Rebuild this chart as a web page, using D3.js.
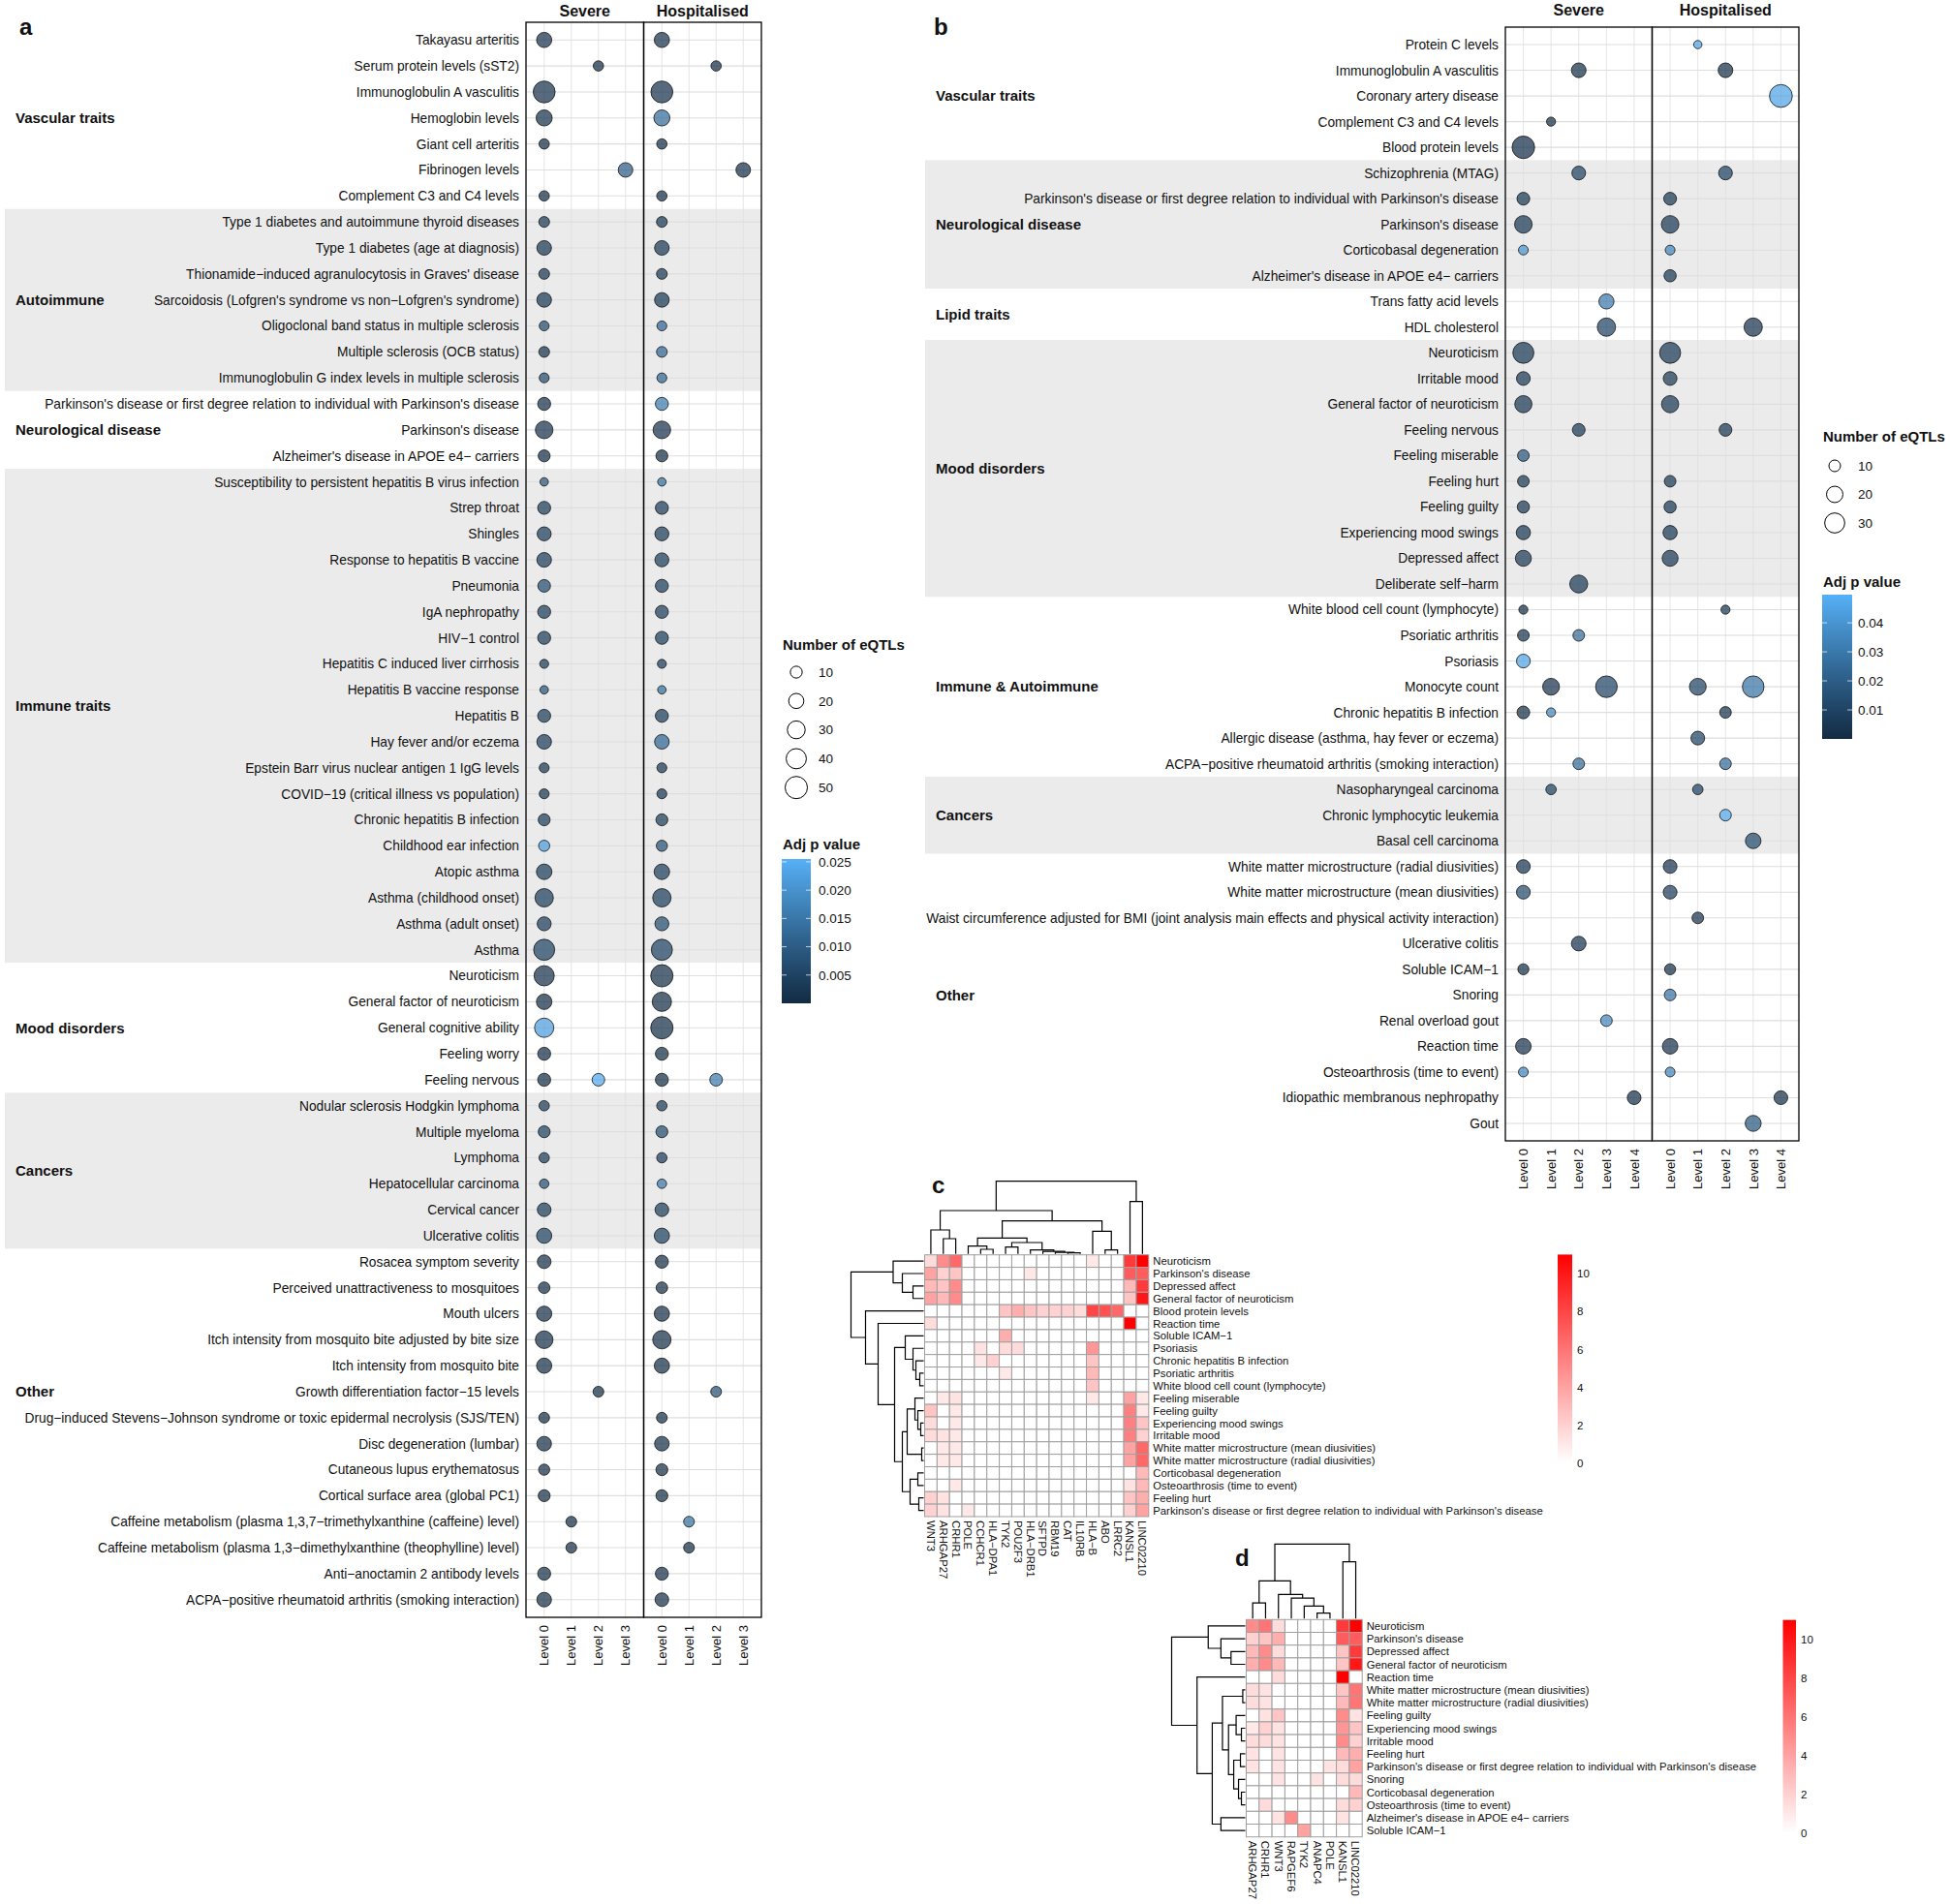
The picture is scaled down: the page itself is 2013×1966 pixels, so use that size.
<!DOCTYPE html>
<html><head><meta charset="utf-8">
<script src="https://cdn.jsdelivr.net/npm/d3@7"></script>
<style>body{margin:0;background:#fff} text{font-family:"Liberation Sans",Arial,sans-serif;fill:#111}</style>
</head><body>
<script>
// ---------------- DATA: panel a ----------------
const facetNames = ["Severe","Hospitalised"];
const levelsA = ["Level 0","Level 1","Level 2","Level 3"];
const levelsB = ["Level 0","Level 1","Level 2","Level 3","Level 4"];

const traitsA = [
"Takayasu arteritis","Serum protein levels (sST2)","Immunoglobulin A vasculitis","Hemoglobin levels","Giant cell arteritis","Fibrinogen levels","Complement C3 and C4 levels",
"Type 1 diabetes and autoimmune thyroid diseases","Type 1 diabetes (age at diagnosis)","Thionamide−induced agranulocytosis in Graves' disease","Sarcoidosis (Lofgren's syndrome vs non−Lofgren's syndrome)","Oligoclonal band status in multiple sclerosis","Multiple sclerosis (OCB status)","Immunoglobulin G index levels in multiple sclerosis",
"Parkinson's disease or first degree relation to individual with Parkinson's disease","Parkinson's disease","Alzheimer's disease in APOE e4− carriers",
"Susceptibility to persistent hepatitis B virus infection","Strep throat","Shingles","Response to hepatitis B vaccine","Pneumonia","IgA nephropathy","HIV−1 control","Hepatitis C induced liver cirrhosis","Hepatitis B vaccine response","Hepatitis B","Hay fever and/or eczema","Epstein Barr virus nuclear antigen 1 IgG levels","COVID−19 (critical illness vs population)","Chronic hepatitis B infection","Childhood ear infection","Atopic asthma","Asthma (childhood onset)","Asthma (adult onset)","Asthma",
"Neuroticism","General factor of neuroticism","General cognitive ability","Feeling worry","Feeling nervous",
"Nodular sclerosis Hodgkin lymphoma","Multiple myeloma","Lymphoma","Hepatocellular carcinoma","Cervical cancer","Ulcerative colitis",
"Rosacea symptom severity","Perceived unattractiveness to mosquitoes","Mouth ulcers","Itch intensity from mosquito bite adjusted by bite size","Itch intensity from mosquito bite","Growth differentiation factor−15 levels","Drug−induced Stevens−Johnson syndrome or toxic epidermal necrolysis (SJS/TEN)","Disc degeneration (lumbar)","Cutaneous lupus erythematosus","Cortical surface area (global PC1)","Caffeine metabolism (plasma 1,3,7−trimethylxanthine (caffeine) level)","Caffeine metabolism (plasma 1,3−dimethylxanthine (theophylline) level)","Anti−anoctamin 2 antibody levels","ACPA−positive rheumatoid arthritis (smoking interaction)"];
const groupsA = ["Vascular traits","Autoimmune","Neurological disease","Immune traits","Mood disorders","Cancers","Other"];
const groupSizesA = [7,7,3,19,5,6,14];
const groupShadedA = [false,true,false,true,false,true,false];
const groupLabelRowA = [3,10,15,25.6,38,43.5,52];

// [trait row, level index, number of eQTLs, adj p value]
const severeA = [
[0,0,20,0.0015],[1,2,6,0.0008],[2,0,48,0.0015],[3,0,23,0.0015],[4,0,6,0.0008],[5,3,18,0.010],[6,0,6,0.0008],
[7,0,7,0.003],[8,0,18,0.003],[9,0,7,0.003],[10,0,18,0.003],[11,0,5,0.007],[12,0,7,0.002],[13,0,5,0.007],
[14,0,13,0.0015],[15,0,29,0.0015],[16,0,10,0.0008],
[17,0,2,0.009],[18,0,13,0.004],[19,0,16,0.004],[20,0,18,0.004],[21,0,12,0.007],[22,0,13,0.004],[23,0,13,0.004],[24,0,3,0.004],[25,0,2,0.009],[26,0,13,0.004],[27,0,18,0.004],[28,0,5,0.003],[29,0,5,0.003],[30,0,10,0.004],[31,0,8,0.022],[32,0,21,0.004],[33,0,32,0.004],[34,0,16,0.004],[35,0,44,0.005],
[36,0,40,0.0015],[37,0,21,0.0008],[38,0,36,0.022],[39,0,13,0.0008],[40,0,13,0.0008],[40,2,12,0.024],
[41,0,6,0.004],[42,0,10,0.005],[43,0,6,0.004],[44,0,4,0.008],[45,0,15,0.004],[46,0,20,0.005],
[47,0,15,0.001],[48,0,9,0.001],[49,0,20,0.001],[50,0,29,0.001],[51,0,20,0.001],[52,2,7,0.001],[53,0,7,0.001],[54,0,18,0.001],[55,0,8,0.001],[56,0,10,0.001],[57,1,7,0.001],[58,1,7,0.001],[59,0,13,0.001],[60,0,18,0.001]];
const hospA = [
[0,0,20,0.0015],[1,2,6,0.0008],[2,0,48,0.0015],[3,0,23,0.013],[4,0,6,0.0008],[5,3,18,0.0008],[6,0,6,0.0008],
[7,0,7,0.003],[8,0,18,0.003],[9,0,7,0.003],[10,0,18,0.003],[11,0,5,0.012],[12,0,7,0.012],[13,0,5,0.012],
[14,0,13,0.016],[15,0,29,0.0015],[16,0,10,0.0008],
[17,0,2,0.014],[18,0,13,0.004],[19,0,16,0.004],[20,0,16,0.004],[21,0,13,0.004],[22,0,13,0.004],[23,0,13,0.004],[24,0,3,0.004],[25,0,2,0.014],[26,0,13,0.004],[27,0,18,0.012],[28,0,5,0.003],[29,0,5,0.003],[30,0,10,0.004],[31,0,8,0.008],[32,0,21,0.004],[33,0,32,0.004],[34,0,16,0.007],[35,0,44,0.005],
[36,0,50,0.0008],[37,0,36,0.0008],[38,0,50,0.0008],[39,0,13,0.0008],[40,0,13,0.0008],[40,2,12,0.016],
[41,0,6,0.004],[42,0,10,0.007],[43,0,6,0.004],[44,0,4,0.016],[45,0,15,0.004],[46,0,20,0.005],
[47,0,13,0.001],[48,0,9,0.001],[49,0,20,0.001],[50,0,32,0.001],[51,0,20,0.001],[52,2,7,0.008],[53,0,7,0.001],[54,0,18,0.001],[55,0,10,0.001],[56,0,10,0.001],[57,1,7,0.014],[58,1,7,0.001],[59,0,13,0.001],[60,0,15,0.001]];
const sizeLegendA = [10,20,30,40,50];
const pTicksA = [0.005,0.010,0.015,0.020,0.025];
const pMaxA = 0.0255;

// ---------------- DATA: panel b ----------------
const traitsB = [
"Protein C levels","Immunoglobulin A vasculitis","Coronary artery disease","Complement C3 and C4 levels","Blood protein levels",
"Schizophrenia (MTAG)","Parkinson's disease or first degree relation to individual with Parkinson's disease","Parkinson's disease","Corticobasal degeneration","Alzheimer's disease in APOE e4− carriers",
"Trans fatty acid levels","HDL cholesterol",
"Neuroticism","Irritable mood","General factor of neuroticism","Feeling nervous","Feeling miserable","Feeling hurt","Feeling guilty","Experiencing mood swings","Depressed affect","Deliberate self−harm",
"White blood cell count (lymphocyte)","Psoriatic arthritis","Psoriasis","Monocyte count","Chronic hepatitis B infection","Allergic disease (asthma, hay fever or eczema)","ACPA−positive rheumatoid arthritis (smoking interaction)",
"Nasopharyngeal carcinoma","Chronic lymphocytic leukemia","Basal cell carcinoma",
"White matter microstructure (radial diusivities)","White matter microstructure (mean diusivities)","Waist circumference adjusted for BMI (joint analysis main effects and physical activity interaction)","Ulcerative colitis","Soluble ICAM−1","Snoring","Renal overload gout","Reaction time","Osteoarthrosis (time to event)","Idiopathic membranous nephropathy","Gout"];
const groupsB = ["Vascular traits","Neurological disease","Lipid traits","Mood disorders","Immune & Autoimmune","Cancers","Other"];
const groupSizesB = [5,5,2,10,7,3,11];
const groupShadedB = [false,true,false,true,false,true,false];
const severeB = [
[1,2,16,0.002],[3,1,6,0.002],[4,0,38,0.001],[5,2,14,0.010],[6,0,12,0.006],[7,0,23,0.006],[8,0,7,0.040],[10,3,17,0.030],[11,3,25,0.010],
[12,0,33,0.006],[13,0,14,0.006],[14,0,22,0.006],[15,2,12,0.006],[16,0,10,0.018],[17,0,10,0.006],[18,0,11,0.006],[19,0,15,0.006],[20,0,19,0.006],[21,2,24,0.006],
[22,0,6,0.002],[23,0,10,0.004],[23,2,10,0.025],[24,0,14,0.045],[25,1,21,0.003],[25,3,35,0.010],[26,0,12,0.002],[26,1,6,0.035],[28,2,10,0.025],[29,1,8,0.010],
[32,0,14,0.004],[33,0,14,0.013],[35,2,16,0.004],[36,0,9,0.002],[38,3,10,0.035],[39,0,18,0.003],[40,0,7,0.035],[41,4,14,0.002]];
const hospB = [
[0,1,5,0.045],[1,2,16,0.002],[2,4,39,0.045],[5,2,14,0.010],[6,0,12,0.006],[7,0,23,0.006],[8,0,7,0.035],[9,0,11,0.006],[11,3,25,0.003],
[12,0,33,0.006],[13,0,14,0.006],[14,0,22,0.006],[15,2,12,0.006],[17,0,10,0.006],[18,0,11,0.006],[19,0,15,0.006],[20,0,19,0.006],
[22,2,6,0.005],[25,1,21,0.010],[25,3,35,0.028],[26,2,10,0.003],[27,1,14,0.010],[28,2,10,0.025],[29,1,8,0.010],[30,2,10,0.048],[31,3,18,0.013],
[32,0,14,0.004],[33,0,14,0.008],[34,1,10,0.003],[36,0,9,0.002],[37,0,10,0.028],[39,0,18,0.003],[40,0,7,0.035],[41,4,14,0.002],[42,3,19,0.018]];
const sizeLegendB = [10,20,30];
const pTicksB = [0.01,0.02,0.03,0.04];
const pMaxB = 0.0497;

// ---------------- DATA: heatmap c ----------------
const colsC = ["WNT3","ARHGAP27","CRHR1","POLE","CCHCR1","HLA−DPA1","TYK2","POU2F3","HLA−DRB1","SFTPD","RBM19","CAT","IL10RB","HLA−B","ABO","LRRC2","KANSL1","LINC02210"];
const rowsC = ["Neuroticism","Parkinson's disease","Depressed affect","General factor of neuroticism","Blood protein levels","Reaction time","Soluble ICAM−1","Psoriasis","Chronic hepatitis B infection","Psoriatic arthritis","White blood cell count (lymphocyte)","Feeling miserable","Feeling guilty","Experiencing mood swings","Irritable mood","White matter microstructure (mean diusivities)","White matter microstructure (radial diusivities)","Corticobasal degeneration","Osteoarthrosis (time to event)","Feeling hurt","Parkinson's disease or first degree relation to individual with Parkinson's disease"];
const valuesC = [
[1.5,5,6.5,0,0,0,0,0,0,0,0,0,0,1,0,0,8.5,11],
[4,2,2.5,0,0,0,0,0,1,0,0,0,0,0,0,0,7,7],
[3,2.5,5,0,0,0,0,0,0,0,0,0,0,0,0,0,3,8.5],
[4,3,5,0,0,0,0,0,0,0,0,0,0,0,0,0,2.5,10],
[0,0,0,0,0,0,2.5,3.5,2.5,2,2,2,1.5,8,7.5,6.5,0,0],
[1.5,0,0,0,0,0,0,0,0,0,0,0,0,0,0,0,11,0],
[0,0,0,0,0,0,3.5,0,0,0,0,0,0,0,0,0,0,0],
[0,0,0,0,1.2,0,1.5,1.5,0,0,0,0,0,4.5,0,0,0,0],
[0,0,0,0,1,2,0,0,0,0,0,0,0,2.5,0,0,0,0],
[0,0,0,0,0,0,1,0,0,0,0,0,0,3,0,0,0,0],
[0,0,0,0,0,0,0,0,0,0,0,0,0,2.5,0,0,0,0],
[0,1,1.2,0,0,0,0,0,0,0,0,0,0,1,0,0,4,1],
[2.5,0,1,0,0,0,0,0,0,0,0,0,0,0,0,0,5.5,1],
[1.5,0,1,0,0,0,0,0,0,0,0,0,0,0,0,0,5.5,2.5],
[1.5,1.2,1,0,0,0,0,0,0,0,0,0,0,0,0,0,5.5,2],
[0,1,1,0,0,0,0,0,0,0,0,0,0,0,0,0,4,6.5],
[0,1,1,0,0,0,0,0,0,0,0,0,0,0,0,0,4,6.5],
[0,0,0,0,0,0,0,0,0,0,0,0,0,0,0,0,0,3],
[0,0,1,0,0,0,0,0,0,0,0,0,0,0,0,0,1.2,3],
[2,1.2,0,0,0,0,0,0,0,0,0,0,0,0,0,0,2.5,3.5],
[2,1.2,0,1,0,0,0,0,0,0,0,0,0,0,0,0,2,4]];
// dendrograms: [left, right, merge height]
const colTreeC = [
  [["WNT3",["ARHGAP27","CRHR1",15.7],24.7],
   [[["POLE",["CCHCR1","HLA−DPA1",4.7],8],
     [["TYK2","POU2F3",7],["HLA−DRB1",["SFTPD",["RBM19",["CAT","IL10RB",1],1.5],2.5],4],11.7],16.3],
    ["HLA−B",["ABO","LRRC2",4],23.3],34],44.7],
  ["KANSL1","LINC02210",54],75];
const rowTreeC = [
  ["Neuroticism",["Parkinson's disease",["Depressed affect","General factor of neuroticism",11],22],31.5],
  ["Blood protein levels",
    ["Reaction time",
      [["Soluble ICAM−1",["Psoriasis",["Chronic hepatitis B infection",["Psoriatic arthritis","White blood cell count (lymphocyte)",4],8],11],19],
       [[["Feeling miserable",["Feeling guilty",["Experiencing mood swings","Irritable mood",3],6],9],["White matter microstructure (mean diusivities)","White matter microstructure (radial diusivities)",2],17],
        [["Corticobasal degeneration","Osteoarthrosis (time to event)",6],["Feeling hurt","Parkinson's disease or first degree relation to individual with Parkinson's disease",5],14],22],30],47],60],75];

// ---------------- DATA: heatmap d ----------------
const colsD = ["ARHGAP27","CRHR1","WNT3","RAPGEF6","TYK2","ANAPC4","POLE","KANSL1","LINC02210"];
const rowsD = ["Neuroticism","Parkinson's disease","Depressed affect","General factor of neuroticism","Reaction time","White matter microstructure (mean diusivities)","White matter microstructure (radial diusivities)","Feeling guilty","Experiencing mood swings","Irritable mood","Feeling hurt","Parkinson's disease or first degree relation to individual with Parkinson's disease","Snoring","Corticobasal degeneration","Osteoarthrosis (time to event)","Alzheimer's disease in APOE e4− carriers","Soluble ICAM−1"];
const valuesD = [
[5,6,1.5,0,0,0,0,8.5,11],
[2,2.5,3.5,0,0,0,0,7,7],
[3,5,1.5,0,0,0,0,2.5,8.5],
[3.5,5,3,0,0,0,0,2.5,10],
[0,0,1.5,0,0,0,0,11,0],
[1.5,1.2,0,0,0,0,0,2.5,6],
[1.5,1.2,0,0,0,0,0,3,6],
[0,1.2,2.5,0,0,0,0,5,1.2],
[1,2,1.2,0,0,0,0,4.5,2.5],
[1.5,1.5,1.2,0,0,0,0,5,2],
[1.2,0,1.2,0,0,0,0,3,3.5],
[1.2,0,1.2,0,0,0,1.2,1.5,4],
[0,0,1.2,0,0,1.2,0,1.5,1.5],
[0,0,0,0,0,0,0,0,3],
[0,1.5,0,0,0,0,0,1.5,2],
[0,0,1.2,5,0,0,0,1.2,0],
[0,0,0,0,4,0,0,0,0]];
const colTreeD = [
  [["ARHGAP27","CRHR1",16.3],["WNT3",["RAPGEF6",["TYK2",["ANAPC4","POLE",5.7],13],21.3],25],39],
  ["KANSL1","LINC02210",59],77.3];
const rowTreeD = [
  ["Neuroticism",["Parkinson's disease",["Depressed affect","General factor of neuroticism",14.8],25.3],38.5],
  ["Reaction time",
    [[["White matter microstructure (mean diusivities)","White matter microstructure (radial diusivities)",2.6],
      [["Feeling guilty",["Experiencing mood swings","Irritable mood",4],9.5],
       [["Feeling hurt","Parkinson's disease or first degree relation to individual with Parkinson's disease",5],["Snoring",["Corticobasal degeneration","Osteoarthrosis (time to event)",4],7],12],17.4],23.7],
     ["Alzheimer's disease in APOE e4− carriers","Soluble ICAM−1",25.3],34.3],50.1],76.5];
const heatTicks = [0,2,4,6,8,10];
const heatMax = 11;

// ---------------- DRAWING ----------------
const W = 2013, H = 1966;
const svg = d3.select("body").append("svg").attr("width", W).attr("height", H).attr("viewBox", `0 0 ${W} ${H}`);
svg.append("rect").attr("width", W).attr("height", H).attr("fill", "#fff");
const defs = svg.append("defs");
let gradId = 0;

function dotPanel(o) {
  const g = svg.append("g");
  const y = d3.scalePoint().domain(d3.range(o.traits.length)).range([o.top, o.bottom]).padding(0.68);
  const step = y.step();
  const xs = o.facetX.map(([a, b]) => d3.scalePoint().domain(d3.range(o.levels.length)).range([a, b]).padding(o.pad));
  const right = o.facetX[1][1];
  const size = d3.scaleLinear().domain(o.sizeDom).range(o.sizeD2);
  const color = d3.scaleLinear().domain([0, o.pMax]).range(["#132B43", "#56B1F7"]).interpolate(d3.interpolateLab);

  let start = 0;
  o.groupSizes.forEach((n, i) => {
    const y0 = y(start) - step / 2, y1 = y(start + n - 1) + step / 2;
    if (o.shaded[i]) g.append("rect").attr("x", o.bandLeft).attr("y", y0).attr("width", right - o.bandLeft).attr("height", y1 - y0).attr("fill", "#EBEBEB");
    const ly = o.labelRows ? y(0) + o.labelRows[i] * step : (y(start) + y(start + n - 1)) / 2;
    g.append("text").attr("x", o.groupX).attr("y", ly).attr("dy", "0.36em").attr("font-size", 15).attr("font-weight", "bold").text(o.groups[i]);
    start += n;
  });
  xs.forEach((x, fi) => {
    const [a, b] = o.facetX[fi];
    g.selectAll(null).data(d3.range(o.traits.length)).join("line")
      .attr("x1", a).attr("x2", b).attr("y1", d => y(d)).attr("y2", d => y(d))
      .attr("stroke", "#DEDEDE").attr("stroke-width", 1.1);
    g.selectAll(null).data(d3.range(o.levels.length)).join("line")
      .attr("x1", d => x(d)).attr("x2", d => x(d)).attr("y1", o.top).attr("y2", o.bottom)
      .attr("stroke", "#DEDEDE").attr("stroke-width", 0.8);
  });
  g.selectAll(null).data(o.traits).join("text")
    .attr("x", o.labelRight).attr("y", (d, i) => y(i)).attr("dy", "0.36em")
    .attr("text-anchor", "end").attr("font-size", 13.75).text(d => d);
  [o.sev, o.hosp].forEach((data, fi) => {
    g.selectAll(null).data(data).join("circle")
      .attr("cx", d => xs[fi](d[1])).attr("cy", d => y(d[0]))
      .attr("r", d => Math.sqrt(size(d[2])) / 2)
      .attr("fill", d => color(d[3])).attr("fill-opacity", 0.72)
      .attr("stroke", "#111").attr("stroke-width", 0.8);
  });
  o.facetX.forEach(([a, b], fi) => {
    g.append("rect").attr("x", a).attr("y", o.top).attr("width", b - a).attr("height", o.bottom - o.top)
      .attr("fill", "none").attr("stroke", "#000").attr("stroke-width", 1.3);
    g.append("text").attr("x", (a + b) / 2).attr("y", o.stripY).attr("text-anchor", "middle")
      .attr("font-size", 16).attr("font-weight", "bold").text(facetNames[fi]);
    g.selectAll(null).data(o.levels).join("text")
      .attr("transform", (d, i) => `translate(${xs[fi](i)},${o.bottom + 8}) rotate(-90)`)
      .attr("text-anchor", "end").attr("dy", "0.36em").attr("font-size", 13).attr("fill", "#222").text(d => d);
  });
  const L = o.legend;
  g.append("text").attr("x", L.x).attr("y", L.titleY).attr("font-size", 15).attr("font-weight", "bold").text("Number of eQTLs");
  o.sizeLegend.forEach((v, i) => {
    const cy = L.firstY + i * L.gap;
    g.append("circle").attr("cx", L.cx).attr("cy", cy).attr("r", Math.sqrt(size(v)) / 2).attr("fill", "none").attr("stroke", "#000").attr("stroke-width", 1);
    g.append("text").attr("x", L.labelX).attr("y", cy).attr("dy", "0.36em").attr("font-size", 13.5).text(v);
  });
  g.append("text").attr("x", L.x).attr("y", L.pTitleY).attr("font-size", 15).attr("font-weight", "bold").text("Adj p value");
  const by = d3.scaleLinear().domain([0, o.pMax]).range([L.barBottom, L.barTop]);
  const id = "grad" + (gradId++);
  const lg = defs.append("linearGradient").attr("id", id).attr("x1", 0).attr("x2", 0).attr("y1", 1).attr("y2", 0);
  d3.range(0, 1.0001, 0.05).forEach(t => lg.append("stop").attr("offset", t).attr("stop-color", color(t * o.pMax)));
  g.append("rect").attr("x", L.barX).attr("y", L.barTop).attr("width", L.barW).attr("height", L.barBottom - L.barTop).attr("fill", `url(#${id})`);
  o.pTicks.forEach(t => {
    const yy = by(t);
    g.append("line").attr("x1", L.barX).attr("x2", L.barX + 5).attr("y1", yy).attr("y2", yy).attr("stroke", "#fff").attr("stroke-opacity", 0.7);
    g.append("line").attr("x1", L.barX + L.barW - 5).attr("x2", L.barX + L.barW).attr("y1", yy).attr("y2", yy).attr("stroke", "#fff").attr("stroke-opacity", 0.7);
    g.append("text").attr("x", L.labelX).attr("y", yy).attr("dy", "0.36em").attr("font-size", 13.5).text(d3.format(o.pFmt)(t));
  });
}

dotPanel({
  traits: traitsA, groups: groupsA, groupSizes: groupSizesA, shaded: groupShadedA, labelRows: groupLabelRowA,
  levels: levelsA, sev: severeA, hosp: hospA, top: 23, bottom: 1670, facetX: [[543, 664.5], [664.5, 786]], pad: 0.67,
  bandLeft: 5, groupX: 16, labelRight: 536, stripY: 16.5,
  sizeDom: [10, 50], sizeD2: [151, 529], pMax: pMaxA, pTicks: pTicksA, pFmt: ".3f", sizeLegend: sizeLegendA,
  legend: {x: 808, titleY: 671, cx: 822, firstY: 694, gap: 29.8, labelX: 845, pTitleY: 877, barX: 807, barW: 30, barTop: 887, barBottom: 1036}
});
dotPanel({
  traits: traitsB, groups: groupsB, groupSizes: groupSizesB, shaded: groupShadedB, labelRows: null,
  levels: levelsB, sev: severeB, hosp: hospB, top: 28, bottom: 1178, facetX: [[1554, 1705.5], [1705.5, 1857]], pad: 0.65,
  bandLeft: 955, groupX: 966, labelRight: 1547, stripY: 16,
  sizeDom: [10, 30], sizeD2: [144, 428], pMax: pMaxB, pTicks: pTicksB, pFmt: ".2f", sizeLegend: sizeLegendB,
  legend: {x: 1882, titleY: 456, cx: 1894, firstY: 481, gap: 29.5, labelX: 1918, pTitleY: 606, barX: 1881, barW: 31, barTop: 614, barBottom: 763}
});

function drawTree(g, tree, pos, hs, orient) {
  function rec(node) {
    if (typeof node === "string") return {p: pos(node), h: 0};
    const a = rec(node[0]), b = rec(node[1]), h = node[2];
    const path = orient === "col"
      ? `M${a.p},${hs(a.h)}V${hs(h)}H${b.p}V${hs(b.h)}`
      : `M${hs(a.h)},${a.p}H${hs(h)}V${b.p}H${hs(b.h)}`;
    g.append("path").attr("d", path).attr("fill", "none").attr("stroke", "#000").attr("stroke-width", 1.2);
    return {p: (a.p + b.p) / 2, h};
  }
  rec(tree);
}

function heatmap(o) {
  const g = svg.append("g");
  const x = d3.scaleBand().domain(o.cols).range([o.left, o.left + o.cols.length * o.cw]);
  const y = d3.scaleBand().domain(o.rows).range([o.top, o.top + o.rows.length * o.ch]);
  const color = d3.scaleLinear().domain([0, heatMax]).range(["#FFFFFF", "#FF0000"]);
  o.values.forEach((row, ri) => {
    g.selectAll(null).data(row).join("rect")
      .attr("x", (d, ci) => x(o.cols[ci])).attr("y", y(o.rows[ri]))
      .attr("width", x.bandwidth()).attr("height", y.bandwidth())
      .attr("fill", d => color(d)).attr("stroke", "#A0A0A0").attr("stroke-width", 1);
  });
  const right = o.left + o.cols.length * o.cw, bottom = o.top + o.rows.length * o.ch;
  g.selectAll(null).data(o.rows).join("text")
    .attr("x", right + 4.5).attr("y", d => y(d) + y.bandwidth() / 2).attr("dy", "0.36em")
    .attr("font-size", 11.3).text(d => d);
  g.selectAll(null).data(o.cols).join("text")
    .attr("transform", d => `translate(${x(d) + x.bandwidth() / 2},${bottom + 4}) rotate(90)`)
    .attr("dy", "0.36em").attr("font-size", 11.3).text(d => d);
  const colH = d3.scaleLinear().domain([0, o.colTree[2]]).range([o.top - 1, o.top - 1 - o.dendroH]);
  drawTree(g, o.colTree, d => x(d) + x.bandwidth() / 2, colH, "col");
  const rowH = d3.scaleLinear().domain([0, o.rowTree[2]]).range([o.left - 1, o.left - 1 - o.dendroW]);
  drawTree(g, o.rowTree, d => y(d) + y.bandwidth() / 2, rowH, "row");
  const ly = d3.scaleLinear().domain([0, heatMax]).range([o.legBottom, o.legTop]);
  const id = "hgrad" + (gradId++);
  const lg = defs.append("linearGradient").attr("id", id).attr("x1", 0).attr("x2", 0).attr("y1", 1).attr("y2", 0);
  lg.append("stop").attr("offset", 0).attr("stop-color", "#FFFFFF");
  lg.append("stop").attr("offset", 1).attr("stop-color", "#FF0000");
  g.append("rect").attr("x", o.legX).attr("y", o.legTop).attr("width", o.legW).attr("height", o.legBottom - o.legTop).attr("fill", `url(#${id})`);
  g.selectAll(null).data(heatTicks).join("text")
    .attr("x", o.legX + o.legW + 5).attr("y", d => ly(d)).attr("dy", "0.36em").attr("font-size", 11.5).text(d => d);
}

heatmap({cols: colsC, rows: rowsC, values: valuesC, colTree: colTreeC, rowTree: rowTreeC,
  left: 954.5, top: 1295.7, cw: 12.85, ch: 12.87, dendroH: 75, dendroW: 75,
  legX: 1608, legW: 15, legTop: 1295.4, legBottom: 1511});
heatmap({cols: colsD, rows: rowsD, values: valuesD, colTree: colTreeD, rowTree: rowTreeD,
  left: 1286.5, top: 1672.3, cw: 13.3, ch: 13.2, dendroH: 77, dendroW: 76,
  legX: 1840.5, legW: 13.5, legTop: 1672.7, legBottom: 1892.7});

[["a", 20, 36], ["b", 964, 36], ["c", 962, 1232], ["d", 1275, 1617]].forEach(([t, x, yy]) =>
  svg.append("text").attr("x", x).attr("y", yy).attr("font-size", 24).attr("font-weight", "bold").text(t));
</script>
</body></html>
